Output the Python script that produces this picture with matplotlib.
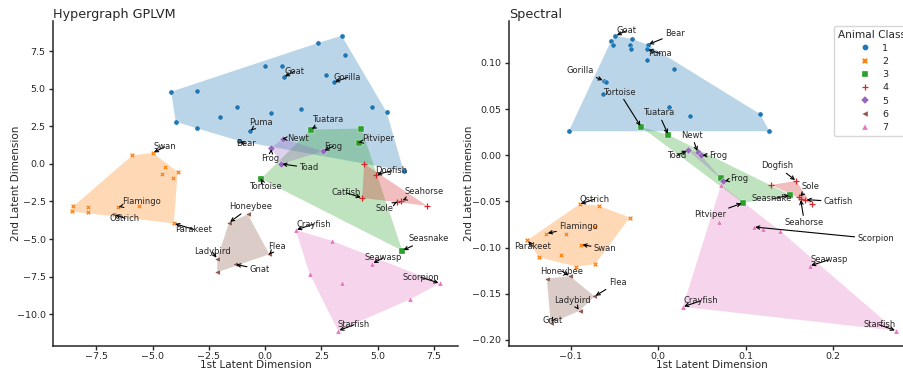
import numpy as np
import matplotlib
matplotlib.use("Agg")
import matplotlib.pyplot as plt
from matplotlib.lines import Line2D

# ---------------------------------------------------------------- data
class_ids = [1, 2, 3, 4, 5, 6, 7]

# Hypergraph GPLVM embedding
gplvm_x = [-4.18, -3.05, -3.98, -3.05, -2.01, -1.26, -0.68, -1.17, -0.01, 0.76, 0.82,
           0.24, 1.57, 2.33, 3.40, 3.56, 2.70, 3.04, 4.74, 5.40, 6.15,
           -5.91, -5.00, -4.47, -4.60, -3.89, -4.10, -8.53, -8.60, -7.87, -7.87,
           -6.56, -5.60, -6.72, -4.06,
           2.02, 4.28, 4.16, -0.19, 6.09,
           4.40, 4.91, 4.31, 5.85, 6.05, 7.19,
           0.77, 0.28, 2.58, 0.70,
           -1.61, -0.77, 0.18, -2.13, -1.35, -2.13,
           1.36, 2.95, 1.97, 3.40, 4.76, 7.76, 6.43, 3.24]
gplvm_y = [4.80, 4.82, 2.81, 2.37, 3.10, 3.78, 2.17, 1.53, 6.53, 6.53, 5.77,
           3.36, 3.65, 8.03, 8.52, 7.23, 5.89, 5.42, 3.78, 3.43, -0.46,
           0.56, 0.73, -0.24, -0.70, -0.53, -0.93, -2.83, -3.16, -2.87, -3.23,
           -2.89, -2.79, -3.36, -3.96,
           2.28, 2.35, 1.42, -1.00, -5.77,
           0.00, -0.73, -2.26, -2.55, -2.45, -2.79,
           1.68, 1.06, 0.84, 0.00,
           -3.91, -3.36, -6.01, -6.32, -6.68, -7.21,
           -4.40, -5.11, -7.30, -7.92, -6.64, -7.94, -9.02, -11.10]
gplvm_class = [1] * 21 + [2] * 14 + [3] * 5 + [4] * 6 + [5] * 4 + [6] * 6 + [7] * 8
gplvm_names = ["", "", "", "", "", "", "Puma", "Bear", "", "", "Goat",
               "", "", "", "", "", "", "Gorilla", "", "", "",
               "", "Swan", "", "", "", "", "", "", "", "",
               "Flamingo", "", "Ostrich", "Parakeet",
               "Tuatara", "", "Pitviper", "Tortoise", "Seasnake",
               "", "Dogfish", "Catfish", "Sole", "Seahorse", "",
               "Newt", "Frog", "Frog", "Toad",
               "Honeybee", "", "Flea", "Ladybird", "Gnat", "",
               "Crayfish", "", "", "", "Seawasp", "Scorpion", "", "Starfish"]

# Spectral embedding
spec_x = [-0.1023, -0.0489, -0.0539, -0.0512, -0.0295, -0.0318, -0.0314, -0.0120,
          -0.0128, -0.0128, 0.0185, -0.0621, -0.0594, -0.0634, 0.0128, 0.0363,
          0.1163, 0.1270,
          -0.0900, -0.0683, -0.0326, -0.1278, -0.1049, -0.0722, -0.1495, -0.0882,
          -0.1110, -0.1362, -0.0935, -0.0722,
          -0.0196, 0.0116, 0.0722, 0.1507, 0.0966,
          0.1289, 0.1575, 0.1610, 0.1625, 0.1680, 0.1754,
          0.0340, 0.0451, 0.0489, 0.0745,
          -0.1008, -0.1274, -0.0729, -0.0900, -0.1229,
          0.0280, 0.2718, 0.1731, 0.1091, 0.1194, 0.1392, 0.0695, 0.0718]
spec_y = [0.0260, 0.1295, 0.1240, 0.1194, 0.1259, 0.1190, 0.1154, 0.1198,
          0.1147, 0.1035, 0.0931, 0.0808, 0.0796, 0.0660, 0.0523, 0.0426,
          0.0447, 0.0260,
          -0.0530, -0.0545, -0.0675, -0.0848, -0.0848, -0.0776, -0.0920, -0.0967,
          -0.1079, -0.1107, -0.1205, -0.1180,
          0.0306, 0.0220, -0.0245, -0.0430, -0.0516,
          -0.0321, -0.0278, -0.0455, -0.0470, -0.0480, -0.0530,
          0.0054, 0.0032, 0.0000, -0.0281,
          -0.1310, -0.1335, -0.1529, -0.1685, -0.1818,
          -0.1642, -0.1901, -0.1198, -0.0776, -0.0794, -0.0819, -0.0718, -0.0321]
spec_class = [1] * 18 + [2] * 12 + [3] * 5 + [4] * 6 + [5] * 4 + [6] * 5 + [7] * 8
spec_names = ["", "Goat", "", "", "", "", "", "Bear",
              "Puma", "", "", "Gorilla", "", "", "", "",
              "", "",
              "Ostrich", "", "", "Flamingo", "", "", "Parakeet", "Swan",
              "", "", "", "",
              "Tortoise", "Tuatara", "", "Seasnake", "Pitviper",
              "", "Dogfish", "Sole", "Seahorse", "Catfish", "",
              "Toad", "Newt", "Frog", "Frog",
              "Honeybee", "", "Flea", "Ladybird", "Gnat",
              "Crayfish", "Starfish", "Seawasp", "Scorpion", "", "", "", ""]

# label placement: offset of each text centre from its point, in pixels,
# listed in the order the named points appear above
gplvm_label_offsets = [("Puma", 11, 9), ("Bear", 7, -3), ("Goat", 11, 6),
                       ("Gorilla", 14, 5), ("Swan", 12, 6), ("Flamingo", 24, 6),
                       ("Ostrich", 11, -4), ("Parakeet", 20, -6),
                       ("Tuatara", 17, 10), ("Pitviper", 19, 4),
                       ("Tortoise", 4, -8), ("Seasnake", 26, 12),
                       ("Dogfish", 16, 4), ("Catfish", -16, 5), ("Sole", -12, -6),
                       ("Seahorse", 23, 9), ("Newt", 15, 0), ("Frog", -1, -11),
                       ("Frog", 10, 5), ("Toad", 28, -4), ("Honeybee", 22, 16),
                       ("Flea", 8, 8), ("Ladybird", -5, 7), ("Gnat", 25, -5),
                       ("Crayfish", 18, 6), ("Seawasp", 11, 6),
                       ("Scorpion", -19, 6), ("Starfish", 16, 6)]
spec_label_offsets = [("Goat", 11, 5), ("Bear", 27, 11), ("Puma", 13, -4),
                      ("Gorilla", -24, 10), ("Ostrich", 15, 5),
                      ("Flamingo", 32, 7), ("Parakeet", 5, -6), ("Swan", 24, -4),
                      ("Tortoise", -22, 35), ("Tuatara", -10, 22),
                      ("Seasnake", -18, -4), ("Pitviper", -33, -12),
                      ("Dogfish", -19, 15), ("Sole", 11, 11),
                      ("Seahorse", 4, -24), ("Catfish", 33, -2),
                      ("Toad", -11, -5), ("Newt", -6, 17), ("Frog", 17, 0),
                      ("Frog", 16, 3), ("Honeybee", -8, 5), ("Flea", 23, 14),
                      ("Ladybird", -7, 10), ("Gnat", 2, 3), ("Crayfish", 18, 6),
                      ("Starfish", -17, 6), ("Seawasp", 19, 6),
                      ("Scorpion", 122, -12)]

# ---------------------------------------------------------------- style
palette = plt.get_cmap("tab10").colors
markers = {1: "o", 2: "X", 3: "s", 4: "+", 5: "D", 6: "<", 7: "^"}
ink = "#262626"

plt.rcParams.update({
    "font.family": ["DejaVu Sans"],
    "text.color": ink,
    "axes.labelcolor": ink,
    "axes.edgecolor": ink,
    "axes.linewidth": 1.1,
    "xtick.color": ink,
    "ytick.color": ink,
    "xtick.labelsize": 6.8,
    "ytick.labelsize": 6.8,
    "xtick.major.size": 3.0,
    "ytick.major.size": 3.0,
    "xtick.major.pad": 1.6,
    "ytick.major.pad": 2.5,
    "xtick.major.width": 1.0,
    "ytick.major.width": 1.0,
})


def convex_hull(pts):
    pts = sorted(set(map(tuple, pts)))
    if len(pts) < 3:
        return np.array(pts)

    def cross(o, a, b):
        return (a[0] - o[0]) * (b[1] - o[1]) - (a[1] - o[1]) * (b[0] - o[0])

    lower, upper = [], []
    for p in pts:
        while len(lower) >= 2 and cross(lower[-2], lower[-1], p) <= 0:
            lower.pop()
        lower.append(p)
    for p in reversed(pts):
        while len(upper) >= 2 and cross(upper[-2], upper[-1], p) <= 0:
            upper.pop()
        upper.append(p)
    return np.array(lower[:-1] + upper[:-1])


def draw_embedding(ax, xs, ys, classes, names, offsets, title):
    xs = np.asarray(xs)
    ys = np.asarray(ys)
    classes = np.asarray(classes)
    for k, c in enumerate(class_ids):
        sel = classes == c
        col = palette[k]
        if sel.sum() >= 3:
            hull = convex_hull(np.column_stack([xs[sel], ys[sel]]))
            ax.fill(hull[:, 0], hull[:, 1], color=col, alpha=0.3,
                    linewidth=0, zorder=1)
        m = markers[c]
        if m == "+":
            ax.scatter(xs[sel], ys[sel], marker=m, s=16, color=col,
                       linewidths=0.9, zorder=3)
        else:
            ax.scatter(xs[sel], ys[sel], marker=m, s=14, color=col,
                       edgecolors="white", linewidths=0.25, zorder=3)

    named = [i for i, n in enumerate(names) if n]
    for i, (label, dx, dy) in zip(named, offsets):
        assert label == names[i]
        ax.annotate(label, xy=(xs[i], ys[i]), xytext=(dx, dy),
                    textcoords="offset pixels", ha="center", va="center",
                    fontsize=6, color=ink, zorder=4,
                    arrowprops=dict(arrowstyle="->", color="black", lw=0.8,
                                    shrinkA=0, shrinkB=1))

    ax.set_title(title, loc="left", fontsize=9.2, pad=1.5)
    ax.set_xlabel("1st Latent Dimension", fontsize=7.5)
    ax.set_ylabel("2nd Latent Dimension", fontsize=7.5)
    for side in ("top", "right"):
        ax.spines[side].set_visible(False)


W, H = 904, 371
fig = plt.figure(figsize=(W / 100, H / 100), dpi=100)

ax1 = fig.add_axes([53.3 / W, (H - 345.5) / H, (458.2 - 53.3) / W, 324.5 / H])
ax2 = fig.add_axes([509 / W, (H - 345.5) / H, (914.6 - 509) / W, 324.5 / H])

draw_embedding(ax1, gplvm_x, gplvm_y, gplvm_class, gplvm_names,
               gplvm_label_offsets, "Hypergraph GPLVM")
draw_embedding(ax2, spec_x, spec_y, spec_class, spec_names,
               spec_label_offsets, "Spectral")

# axis label placement (axes fraction)
ax1.xaxis.set_label_coords(0.5, -0.0445)
ax2.xaxis.set_label_coords(0.5, -0.0445)
ax1.yaxis.set_label_coords(-0.079, 0.5)
ax2.yaxis.set_label_coords(-0.086, 0.5)

ax1.set_xticks([-7.5, -5.0, -2.5, 0.0, 2.5, 5.0, 7.5])
ax1.set_yticks([-10.0, -7.5, -5.0, -2.5, 0.0, 2.5, 5.0, 7.5])
ax2.set_xticks([-0.1, 0.0, 0.1, 0.2])
ax2.set_yticks([-0.20, -0.15, -0.10, -0.05, 0.00, 0.05, 0.10])

handles = []
for k, c in enumerate(class_ids):
    m = markers[c]
    handles.append(Line2D([], [], linestyle="", marker=m, color=palette[k],
                          markersize=4.4 if m != "+" else 5.0,
                          markeredgecolor=palette[k] if m == "+" else "white",
                          markeredgewidth=0.9 if m == "+" else 0.25))
leg = ax2.legend(handles, [str(c) for c in class_ids], title="Animal Class",
                 loc="upper right", fontsize=6.8, title_fontsize=7.6,
                 labelspacing=0.45, frameon=True, borderaxespad=0.5)
leg.get_frame().set_edgecolor("#cccccc")

fig.savefig("out.png", dpi=100)
